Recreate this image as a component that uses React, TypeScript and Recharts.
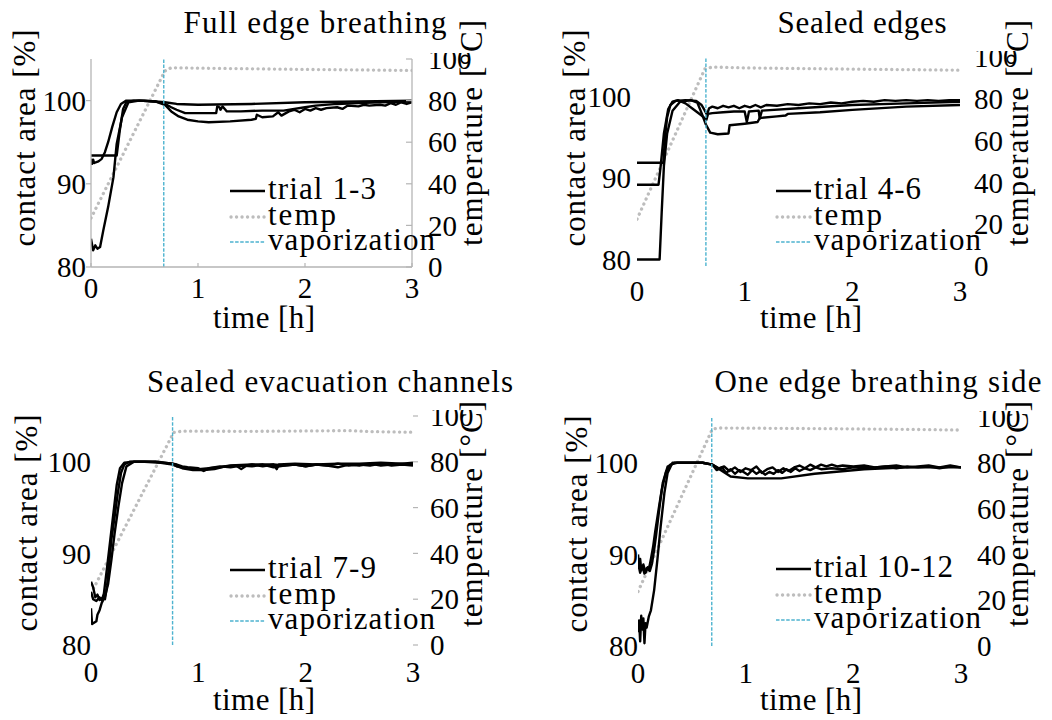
import React from "react";
import { ComposedChart, Line, XAxis, YAxis, ReferenceLine } from "recharts";

const FONT = "'Liberation Serif', 'Times New Roman', serif";
const FS = 29;
const LABEL_FS = 31;

// ---- data: time [h] / contact area [%] / temperature [°C]
const xTicks = [0, 1, 2, 3];
const areaTicks = [80, 90, 100];
const tempTicks = [0, 20, 40, 60, 80, 100];

// Full edge breathing
const p1aT = [0, 0.24, 0.27, 0.3, 0.33, 0.4, 0.5, 0.6, 0.69, 0.8, 1.0, 1.5, 2.0, 2.5, 3.0];
const p1aV = [93.4, 93.4, 96.5, 99.0, 99.8, 100, 100, 99.9, 99.8, 99.6, 99.5, 99.6, 99.8, 99.9, 100];
const p1bT = [0, 0.01, 0.02, 0.03, 0.05, 0.07, 0.1, 0.13, 0.16, 0.2, 0.24, 0.28, 0.33, 0.45, 0.6, 0.69, 0.75, 0.8, 0.88, 1.0, 1.17, 1.18, 1.2, 1.21, 1.23, 1.25, 1.27, 1.28, 1.4, 1.6, 1.8, 1.9, 2.0, 2.1, 2.3, 2.5, 2.7, 3.0];
const p1bV = [93.0, 92.4, 92.9, 92.5, 92.6, 92.7, 93.0, 93.8, 95.0, 96.9, 98.6, 99.6, 100, 100, 99.9, 99.6, 99.2, 98.9, 98.5, 98.5, 98.5, 99.3, 99.2, 98.9, 99.3, 99.0, 98.7, 98.7, 98.7, 98.8, 98.8, 99.0, 99.2, 99.4, 99.6, 99.7, 99.8, 99.9];
const p1cT = [0, 0.02, 0.04, 0.06, 0.085, 0.115, 0.16, 0.21, 0.24, 0.29, 0.35, 0.45, 0.6, 0.69, 0.75, 0.82, 0.9, 1.0, 1.1, 1.3, 1.5, 1.54, 1.55, 1.6, 1.7, 1.75, 1.78, 1.85, 1.9, 1.95, 2.0, 2.05, 2.1, 2.15, 2.2, 2.3, 2.35, 2.4, 2.5, 2.55, 2.6, 2.7, 2.75, 2.8, 2.85, 2.9, 2.95, 3.0];
const p1cV = [83.4, 82.0, 82.6, 82.2, 82.4, 84.4, 87.2, 90.8, 94.8, 98.0, 99.8, 100, 99.9, 99.5, 98.7, 98.1, 97.7, 97.5, 97.4, 97.5, 97.7, 97.8, 98.3, 98.0, 98.1, 98.6, 98.2, 98.7, 98.9, 98.6, 99.0, 98.8, 99.1, 98.9, 99.1, 99.2, 99.0, 99.4, 99.3, 99.5, 99.4, 99.5, 99.4, 99.7, 99.5, 99.8, 99.6, 99.8];
const p1TempT = [0, 0.69, 0.75, 1.0, 2.0, 3.0];
const p1TempV = [23.5, 94.2, 95.8, 95.6, 95.0, 94.5];

// Sealed edges
const p2aT = [0, 0.21, 0.23, 0.25, 0.28, 0.33, 0.4, 0.5, 0.56, 0.6, 0.64, 0.68, 0.75, 0.85, 0.86, 1.0, 1.12, 1.14, 1.3, 1.38, 1.4, 1.7, 2.0, 2.5, 3.0];
const p2aV = [80.0, 80.0, 86.0, 91.5, 95.5, 98.3, 99.4, 99.6, 99.3, 98.0, 96.6, 95.6, 95.4, 95.5, 96.5, 96.7, 96.9, 97.4, 97.6, 97.7, 97.9, 98.1, 98.4, 98.8, 99.0];
const p2bT = [0, 0.2, 0.22, 0.25, 0.29, 0.33, 0.38, 0.45, 0.52, 0.6, 0.645, 0.66, 0.7, 0.8, 0.9, 1.0, 1.02, 1.04, 1.13, 1.14, 1.16, 1.5, 2.0, 2.5, 3.0];
const p2bV = [89.2, 89.2, 91.5, 95.5, 98.5, 99.4, 99.6, 99.2, 98.5, 97.7, 97.2, 97.9, 98.0, 98.1, 98.2, 98.2, 96.9, 98.2, 98.3, 97.3, 98.3, 98.6, 99.0, 99.2, 99.4];
const p2cT = [0, 0.245, 0.26, 0.28, 0.31, 0.36, 0.45, 0.55, 0.6, 0.63, 0.65, 0.67, 0.7, 0.75, 0.8, 0.85, 0.9, 0.95, 1.0, 1.05, 1.1, 1.15, 1.2, 1.3, 1.4, 1.5, 1.6, 1.7, 1.8, 1.9, 2.0, 2.1, 2.2, 2.3, 2.4, 2.5, 2.6, 2.7, 2.8, 2.9, 3.0];
const p2cV = [91.9, 91.9, 95.0, 97.5, 99.0, 99.5, 99.6, 99.5, 99.0, 98.3, 97.8, 98.6, 98.8, 98.6, 98.9, 98.7, 98.9, 98.6, 98.9, 98.7, 99.0, 98.7, 99.0, 98.9, 99.1, 99.0, 99.2, 99.1, 99.3, 99.2, 99.4, 99.5, 99.4, 99.6, 99.5, 99.6, 99.5, 99.6, 99.5, 99.6, 99.6];
const p2TempT = [0, 0.63, 0.7, 1.0, 2.0, 3.0];
const p2TempV = [22.4, 94.3, 95.2, 94.8, 94.2, 93.7];

// Sealed evacuation channels
const p3aT = [0, 0.02, 0.04, 0.06, 0.08, 0.1, 0.13, 0.15, 0.17, 0.19, 0.22, 0.25, 0.28, 0.31, 0.36, 0.5, 0.65, 0.76, 0.85, 0.95, 1.05, 1.15, 1.25, 1.35, 1.4, 1.45, 1.5, 1.6, 1.7, 1.8, 1.9, 2.0, 2.1, 2.2, 2.3, 2.4, 2.5, 2.6, 2.7, 2.8, 2.9, 3.0];
const p3aV = [86.9, 86.3, 85.2, 85.5, 84.9, 85.1, 85.0, 86.5, 89.0, 91.5, 94.0, 96.6, 98.8, 99.7, 100, 100, 99.9, 99.7, 99.3, 99.1, 99.1, 99.2, 99.5, 99.6, 99.2, 99.6, 99.7, 99.5, 99.7, 99.6, 99.7, 99.5, 99.7, 99.6, 99.8, 99.6, 99.7, 99.6, 99.8, 99.6, 99.7, 99.6];
const p3bT = [0, 0.02, 0.05, 0.08, 0.1, 0.12, 0.15, 0.18, 0.21, 0.24, 0.27, 0.31, 0.4, 0.6, 0.76, 0.8, 0.9, 1.0, 1.1, 1.2, 1.3, 1.5, 1.7, 1.73, 1.75, 1.9, 2.1, 2.3, 2.5, 2.7, 2.9, 3.0];
const p3bV = [85.8, 85.0, 84.8, 85.2, 84.9, 85.6, 88.5, 91.5, 94.5, 97.5, 99.3, 99.9, 100, 100, 99.8, 99.5, 99.3, 99.2, 99.3, 99.4, 99.6, 99.7, 99.7, 99.2, 99.7, 99.8, 99.7, 99.8, 99.8, 99.9, 99.8, 99.9];
const p3cT = [0, 0.01, 0.05, 0.06, 0.08, 0.1, 0.13, 0.16, 0.19, 0.22, 0.255, 0.29, 0.33, 0.4, 0.6, 0.76, 0.8, 0.85, 0.9, 1.0, 1.05, 1.1, 1.2, 1.3, 1.4, 1.5, 1.6, 1.7, 1.8, 1.9, 2.0, 2.1, 2.2, 2.3, 2.4, 2.5, 2.6, 2.7, 2.8, 2.9, 3.0];
const p3cV = [84.0, 82.3, 82.6, 83.3, 83.8, 84.6, 85.3, 86.7, 89.3, 92.2, 95.1, 97.7, 99.5, 100, 100, 99.8, 99.7, 99.5, 99.4, 99.3, 99.0, 99.3, 99.5, 99.4, 99.6, 99.5, 99.7, 99.4, 99.6, 99.7, 99.5, 99.7, 99.6, 99.4, 99.7, 99.6, 99.8, 99.6, 99.7, 99.8, 99.7];
const p3TempT = [0, 0.77, 0.85, 1.5, 2.4, 2.6, 3.0];
const p3TempV = [22.5, 92.8, 93.4, 93.3, 93.6, 93.2, 92.9];

// One edge breathing side
const p4aT = [0, 0.01, 0.02, 0.03, 0.05, 0.07, 0.09, 0.11, 0.13, 0.15, 0.167, 0.2, 0.23, 0.275, 0.34, 0.5, 0.6, 0.69, 0.75, 0.8, 0.85, 0.9, 0.95, 1.0, 1.05, 1.1, 1.15, 1.2, 1.25, 1.3, 1.35, 1.4, 1.45, 1.5, 1.55, 1.6, 1.65, 1.7, 1.75, 1.8, 1.85, 1.9, 2.0, 2.1, 2.2, 2.3, 2.4, 2.5, 2.6, 2.7, 2.8, 2.9, 3.0];
const p4aV = [90.0, 88.8, 89.5, 88.3, 88.9, 88.0, 88.6, 88.2, 89.0, 90.5, 92.0, 95.2, 97.8, 99.6, 100, 100, 100, 99.8, 99.4, 99.6, 99.1, 99.5, 99.0, 99.4, 99.2, 99.6, 98.9, 99.3, 99.5, 99.0, 99.4, 99.1, 99.5, 99.7, 99.4, 99.8, 99.5, 99.8, 99.6, 99.8, 99.6, 99.7, 99.6, 99.7, 99.5, 99.6, 99.7, 99.5, 99.6, 99.7, 99.5, 99.7, 99.5];
const p4bT = [0, 0.02, 0.04, 0.06, 0.08, 0.1, 0.12, 0.14, 0.16, 0.19, 0.22, 0.26, 0.3, 0.36, 0.5, 0.6, 0.69, 0.73, 0.78, 0.82, 0.86, 0.9, 0.94, 0.98, 1.02, 1.06, 1.1, 1.14, 1.18, 1.22, 1.26, 1.3, 1.34, 1.38, 1.42, 1.46, 1.5, 1.55, 1.6, 1.65, 1.7, 1.8, 1.9, 2.0, 2.1, 2.2, 2.3, 2.4, 2.5, 2.6, 2.7, 2.8, 2.9, 3.0];
const p4bV = [89.1, 88.0, 88.7, 87.9, 88.5, 88.3, 89.5, 90.8, 92.5, 94.8, 97.0, 99.0, 99.8, 100, 100, 100, 99.8, 99.2, 99.5, 98.9, 99.3, 98.8, 99.2, 99.0, 98.7, 99.2, 98.8, 99.1, 98.7, 99.0, 98.8, 99.2, 98.9, 99.3, 99.0, 99.4, 99.1, 99.4, 99.2, 99.5, 99.3, 99.4, 99.3, 99.5, 99.4, 99.5, 99.6, 99.4, 99.6, 99.5, 99.6, 99.4, 99.6, 99.5];
const p4cT = [0, 0.01, 0.02, 0.03, 0.04, 0.05, 0.06, 0.07, 0.08, 0.1, 0.12, 0.15, 0.18, 0.21, 0.245, 0.275, 0.32, 0.5, 0.6, 0.69, 0.77, 0.86, 1.02, 1.33, 1.64, 2.1, 2.5, 3.0];
const p4cV = [81.5, 82.8, 80.5, 83.3, 81.8, 83.0, 80.3, 82.5, 82.0, 83.2, 83.9, 86.1, 89.4, 93.0, 96.7, 98.9, 100, 100, 100, 99.8, 99.2, 98.5, 98.3, 98.3, 98.8, 99.3, 99.5, 99.5];
const p4TempT = [0, 0.69, 0.76, 1.5, 2.5, 3.0];
const p4TempV = [23.8, 94.7, 95.2, 95.0, 94.6, 94.3];

const titles = ["Full edge breathing", "Sealed edges", "Sealed evacuation channels", "One edge breathing side"];
const trialLabels = ["trial 1-3", "trial 4-6", "trial 7-9", "trial 10-12"];
const vaporization = [0.68, 0.64, 0.76, 0.685];

const rows = (t: number[], v: number[]) => t.map((x, i) => ({ t: x, v: v[i] }));

const TRIAL = "#000";
const TEMP = "#bdbdbd";
const VAP = "#4db3cf";
const SPINE = "#b5b5b5";

type AxStyle = { line: boolean; size: number; margin: number; tickLine: boolean };

type PanelCfg = {
  left: number; right: number; top: number; bottom: number;
  areaDomain: [number, number];
  trials: { t: number; v: number }[][];
  temp: { t: number; v: number }[];
  vap: number;
  ax: { left: AxStyle; bottom: AxStyle; right: AxStyle };
  text: {
    title: [number, number, number];
    yl: [number, number];
    yr: [number, number];
    xl: [number, number];
    legX: number;
    legY: number;
    legW: number[];
  };
};

const none = (margin: number): AxStyle => ({ line: false, size: 0, margin, tickLine: false });

const panels: PanelCfg[] = [
  {
    left: 91, right: 412, top: 59, bottom: 267, areaDomain: [80, 105],
    trials: [rows(p1aT, p1aV), rows(p1bT, p1bV), rows(p1cT, p1cV)],
    temp: rows(p1TempT, p1TempV), vap: vaporization[0],
    ax: {
      left: { line: true, size: 5, margin: 0, tickLine: true },
      bottom: { line: true, size: -4, margin: 14, tickLine: true },
      right: { line: true, size: -6, margin: 22, tickLine: true },
    },
    text: { title: [315, 33, 263], yl: [35, 138], yr: [482, 133], xl: [264, 328], legX: 230, legY: 191, legW: [108, 68, 167] },
  },
  {
    left: 637, right: 960, top: 57, bottom: 266, areaDomain: [79.2, 104.9],
    trials: [rows(p2aT, p2aV), rows(p2bT, p2bV), rows(p2cT, p2cV)],
    temp: rows(p2TempT, p2TempV), vap: vaporization[1],
    ax: { left: none(6), bottom: none(14), right: none(14) },
    text: { title: [862, 33, 169], yl: [585, 138], yr: [1028, 133], xl: [811, 328], legX: 776, legY: 191, legW: [107, 68, 167] },
  },
  {
    left: 91, right: 413, top: 416, bottom: 645, areaDomain: [80, 105],
    trials: [rows(p3aT, p3aV), rows(p3bT, p3bV), rows(p3cT, p3cV)],
    temp: rows(p3TempT, p3TempV), vap: vaporization[2],
    ax: { left: none(0), bottom: none(16), right: { line: false, size: 5, margin: 12, tickLine: true } },
    text: { title: [330, 392, 366], yl: [37, 523], yr: [482, 514], xl: [264, 710], legX: 230, legY: 570, legW: [108, 68, 167] },
  },
  {
    left: 638, right: 961, top: 417, bottom: 646, areaDomain: [80, 105],
    trials: [rows(p4aT, p4aV), rows(p4bT, p4bV), rows(p4cT, p4cV)],
    temp: rows(p4TempT, p4TempV), vap: vaporization[3],
    ax: { left: none(0), bottom: none(16), right: none(16) },
    text: { title: [878, 392, 327], yl: [587, 524], yr: [1028, 514], xl: [811, 710], legX: 776, legY: 569, legW: [139, 68, 167] },
  },
];

const LW = 70;
const RW = 70;
const TOPM = 6;
const XH = 45;

const tickStyle = { fontSize: FS, fill: "#000" };

function Panel({ p }: { p: PanelCfg }) {
  const w = p.right - p.left + LW + RW;
  const h = p.bottom - p.top + TOPM + XH;
  const tl = (a: AxStyle) => (a.tickLine ? { stroke: SPINE, strokeWidth: 1.2 } : false);
  const al = (a: AxStyle) => (a.line ? { stroke: SPINE, strokeWidth: 1.3 } : false);
  return (
    <div style={{ position: "absolute", left: p.left - LW, top: p.top - TOPM }}>
      <ComposedChart width={w} height={h} margin={{ top: TOPM, right: 0, bottom: 0, left: 0 }}>
        <XAxis
          xAxisId="x" dataKey="t" type="number" domain={[0, 3]} ticks={xTicks} interval={0}
          allowDataOverflow height={XH} axisLine={al(p.ax.bottom)} tickLine={tl(p.ax.bottom)}
          tickSize={p.ax.bottom.size} tickMargin={p.ax.bottom.margin} tick={tickStyle}
        />
        <YAxis
          yAxisId="left" orientation="left" type="number" domain={p.areaDomain} ticks={areaTicks} interval={0}
          allowDataOverflow width={LW} axisLine={al(p.ax.left)} tickLine={tl(p.ax.left)}
          tickSize={p.ax.left.size} tickMargin={p.ax.left.margin} tick={tickStyle}
        />
        <YAxis
          yAxisId="right" orientation="right" type="number" domain={[0, 100]} ticks={tempTicks} interval={0}
          allowDataOverflow width={RW} axisLine={al(p.ax.right)} tickLine={tl(p.ax.right)}
          tickSize={p.ax.right.size} tickMargin={p.ax.right.margin} tick={tickStyle}
        />
        <Line
          xAxisId="x" yAxisId="right" data={p.temp} dataKey="v" type="linear" dot={false}
          stroke={TEMP} strokeWidth={3.3} strokeDasharray="0.1 5.4" strokeLinecap="round"
          isAnimationActive={false}
        />
        {p.trials.map((d, i) => (
          <Line
            key={i} xAxisId="x" yAxisId="left" data={d} dataKey="v" type="linear" dot={false}
            stroke={TRIAL} strokeWidth={2.4} strokeLinejoin="round" isAnimationActive={false}
          />
        ))}
        <ReferenceLine xAxisId="x" yAxisId="left" x={p.vap} stroke={VAP} strokeWidth={1.4} strokeDasharray="3.5 1.6" />
      </ComposedChart>
    </div>
  );
}

function Labels({ p, i }: { p: PanelCfg; i: number }) {
  const t = p.text;
  const lx = t.legX;
  const names = [trialLabels[i], "temp", "vaporization"];
  return (
    <g>
      <text x={t.title[0]} y={t.title[1]} textAnchor="middle" textLength={t.title[2]} lengthAdjust="spacing">
        {titles[i]}
      </text>
      <text transform={`translate(${t.yl[0]},${t.yl[1]}) rotate(-90)`} textAnchor="middle" textLength={217} lengthAdjust="spacing">
        contact area [%]
      </text>
      <text transform={`translate(${t.yr[0]},${t.yr[1]}) rotate(-90)`} textAnchor="middle" textLength={226} lengthAdjust="spacing">
        temperature [°C]
      </text>
      <text x={t.xl[0]} y={t.xl[1]} textAnchor="middle" textLength={102} lengthAdjust="spacing">
        time [h]
      </text>
      <line x1={lx} x2={lx + 35} y1={t.legY} y2={t.legY} stroke={TRIAL} strokeWidth={2.6} />
      <line x1={lx + 1} x2={lx + 35} y1={t.legY + 26} y2={t.legY + 26} stroke={TEMP} strokeWidth={3.3} strokeDasharray="0.1 5.4" strokeLinecap="round" />
      <line x1={lx} x2={lx + 35} y1={t.legY + 51} y2={t.legY + 51} stroke={VAP} strokeWidth={1.4} strokeDasharray="3.5 1.6" />
      {names.map((n, k) => (
        <text key={k} x={lx + 38} y={t.legY + 8 + k * 25.5} textLength={t.legW[k]} lengthAdjust="spacing">
          {n}
        </text>
      ))}
    </g>
  );
}

export default function App() {
  return (
    <div
      style={{
        position: "absolute", left: 0, top: 0, width: 1052, height: 720,
        background: "#fff", fontFamily: FONT,
      }}
    >
      {panels.map((p, i) => (
        <Panel key={i} p={p} />
      ))}
      <svg
        width={1052} height={720}
        style={{ position: "absolute", left: 0, top: 0, pointerEvents: "none", fontFamily: FONT }}
        fontSize={LABEL_FS} fill="#000"
      >
        {panels.map((p, i) => (
          <Labels key={i} p={p} i={i} />
        ))}
      </svg>
    </div>
  );
}
